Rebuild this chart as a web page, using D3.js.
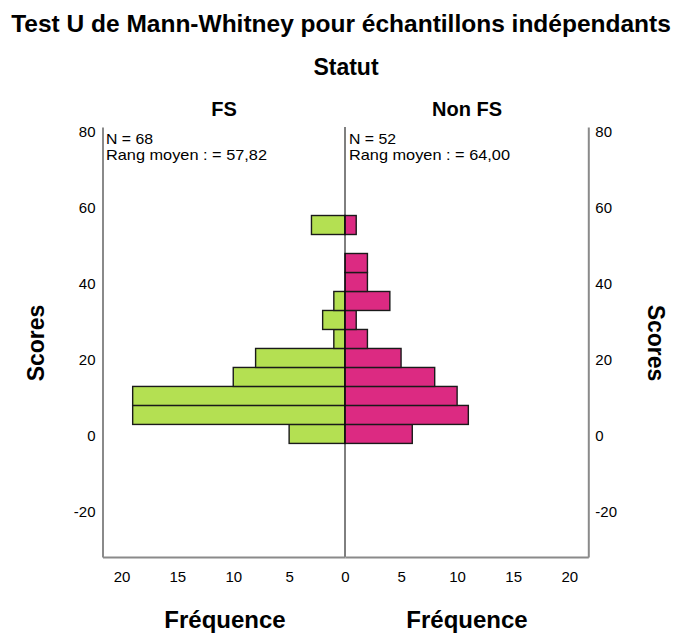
<!DOCTYPE html>
<html><head><meta charset="utf-8">
<script src="https://cdn.jsdelivr.net/npm/d3@7/dist/d3.min.js"></script>
<style>
body{margin:0;background:#fff;}
text{font-family:"Liberation Sans",Arial,sans-serif;fill:#000;}
</style></head>
<body><svg id="c" width="681" height="633"></svg>
<script>
// ---- data ----
const binCenters = [0, 5, 10, 15, 20, 25, 30, 35, 40, 45, 50, 55];
const fsCounts    = [5, 19, 19, 10, 8, 1, 2, 1, 0, 0, 0, 3];
const nonFsCounts = [6, 11, 10, 8, 5, 2, 1, 4, 2, 2, 0, 1];
const binWidth = 5;
const scoreTicks = [-20, 0, 20, 40, 60, 80];
const freqTicks = [0, 5, 10, 15, 20];
const groupNames = ["FS", "Non FS"];
const groupN = [68, 52];
const groupMeanRank = ["57,82", "64,00"];
const titleText = "Test U de Mann-Whitney pour échantillons indépendants";
const facetTitle = "Statut";
const yTitle = "Scores";
const xTitle = "Fréquence";

const svg = d3.select("#c");
const cx = 345, plotTop = 127, plotBottom = 557;
const y = d3.scaleLinear().domain([-32.4, 80.8]).range([plotBottom, plotTop]);
const xL = d3.scaleLinear().domain([0, 21.7]).range([cx, 102.5]);
const xR = d3.scaleLinear().domain([0, 21.7]).range([cx, 588.3]);
const fmt = d => String(d);

// titles
svg.append("text").attr("x", 341).attr("y", 32).attr("text-anchor", "middle")
  .style("font-size", "24.5px").style("font-weight", "bold").text(titleText);
svg.append("text").attr("x", 346).attr("y", 75).attr("text-anchor", "middle")
  .style("font-size", "23px").style("font-weight", "bold").text(facetTitle);
svg.append("text").attr("x", 224).attr("y", 116).attr("text-anchor", "middle")
  .style("font-size", "20px").style("font-weight", "bold").text(groupNames[0]);
svg.append("text").attr("x", 467).attr("y", 116).attr("text-anchor", "middle")
  .style("font-size", "20px").style("font-weight", "bold").text(groupNames[1]);

// bars
const data = binCenters.map((c, i) => ({c, fs: fsCounts[i], nf: nonFsCounts[i]}));
svg.append("g").selectAll("rect").data(data.filter(d => d.fs > 0)).join("rect")
  .attr("x", d => xL(d.fs)).attr("width", d => xL(0) - xL(d.fs))
  .attr("y", d => y(d.c + binWidth / 2)).attr("height", d => y(d.c - binWidth / 2) - y(d.c + binWidth / 2))
  .attr("fill", "#b4e052").attr("stroke", "#1a1a1a").attr("stroke-width", 1.4);
svg.append("g").selectAll("rect").data(data.filter(d => d.nf > 0)).join("rect")
  .attr("x", xR(0)).attr("width", d => xR(d.nf) - xR(0))
  .attr("y", d => y(d.c + binWidth / 2)).attr("height", d => y(d.c - binWidth / 2) - y(d.c + binWidth / 2))
  .attr("fill", "#dc2a82").attr("stroke", "#1a1a1a").attr("stroke-width", 1.4);

// center line
svg.append("line").attr("x1", xL(0)).attr("x2", xL(0)).attr("y1", plotTop).attr("y2", plotBottom)
  .attr("stroke", "#000").attr("stroke-width", 1);

function styleAxis(g) {
  g.select(".domain").attr("stroke", "#8a8a8a").attr("stroke-width", 2);
  g.selectAll("text").style("font-size", "15px").style("font-family", "'Liberation Sans',Arial,sans-serif").attr("fill", "#111");
}
// y axes
svg.append("g").attr("transform", `translate(${xL(21.7)},0)`)
  .call(d3.axisLeft(y).tickValues(scoreTicks).tickFormat(fmt).tickSize(0).tickSizeOuter(0).tickPadding(7))
  .call(styleAxis).call(g => g.selectAll("text").attr("dy", "0.45em"));
svg.append("g").attr("transform", `translate(${xR(21.7)},0)`)
  .call(d3.axisRight(y).tickValues(scoreTicks).tickFormat(fmt).tickSize(0).tickSizeOuter(0).tickPadding(7))
  .call(styleAxis).call(g => g.selectAll("text").attr("dy", "0.45em"));
// x axes
svg.append("g").attr("transform", `translate(0,${plotBottom})`)
  .call(d3.axisBottom(xL).tickValues(freqTicks).tickFormat(fmt).tickSize(0).tickSizeOuter(0).tickPadding(14))
  .call(styleAxis);
svg.append("g").attr("transform", `translate(0,${plotBottom})`)
  .call(d3.axisBottom(xR).tickValues(freqTicks.filter(v => v > 0)).tickFormat(fmt).tickSize(0).tickSizeOuter(0).tickPadding(14))
  .call(styleAxis);

// axis titles
svg.append("text").attr("transform", "translate(44,343) rotate(-90)").attr("text-anchor", "middle")
  .style("font-size", "23px").style("font-weight", "bold").text(yTitle);
svg.append("text").attr("transform", "translate(648,343) rotate(90)").attr("text-anchor", "middle")
  .style("font-size", "23px").style("font-weight", "bold").text(yTitle);
svg.append("text").attr("x", 225).attr("y", 628).attr("text-anchor", "middle")
  .style("font-size", "24px").style("font-weight", "bold").text(xTitle);
svg.append("text").attr("x", 467).attr("y", 628).attr("text-anchor", "middle")
  .style("font-size", "24px").style("font-weight", "bold").text(xTitle);

// annotations
[[106, 0], [349, 1]].forEach(([x0, i]) => {
  svg.append("text").attr("x", x0).attr("y", 144).style("font-size", "14.5px")
    .attr("textLength", 47).attr("lengthAdjust", "spacingAndGlyphs")
    .text(`N = ${groupN[i]}`);
  svg.append("text").attr("x", x0).attr("y", 160).style("font-size", "14.5px")
    .attr("textLength", 161).attr("lengthAdjust", "spacingAndGlyphs")
    .text(`Rang moyen : = ${groupMeanRank[i]}`);
});
</script></body></html>
